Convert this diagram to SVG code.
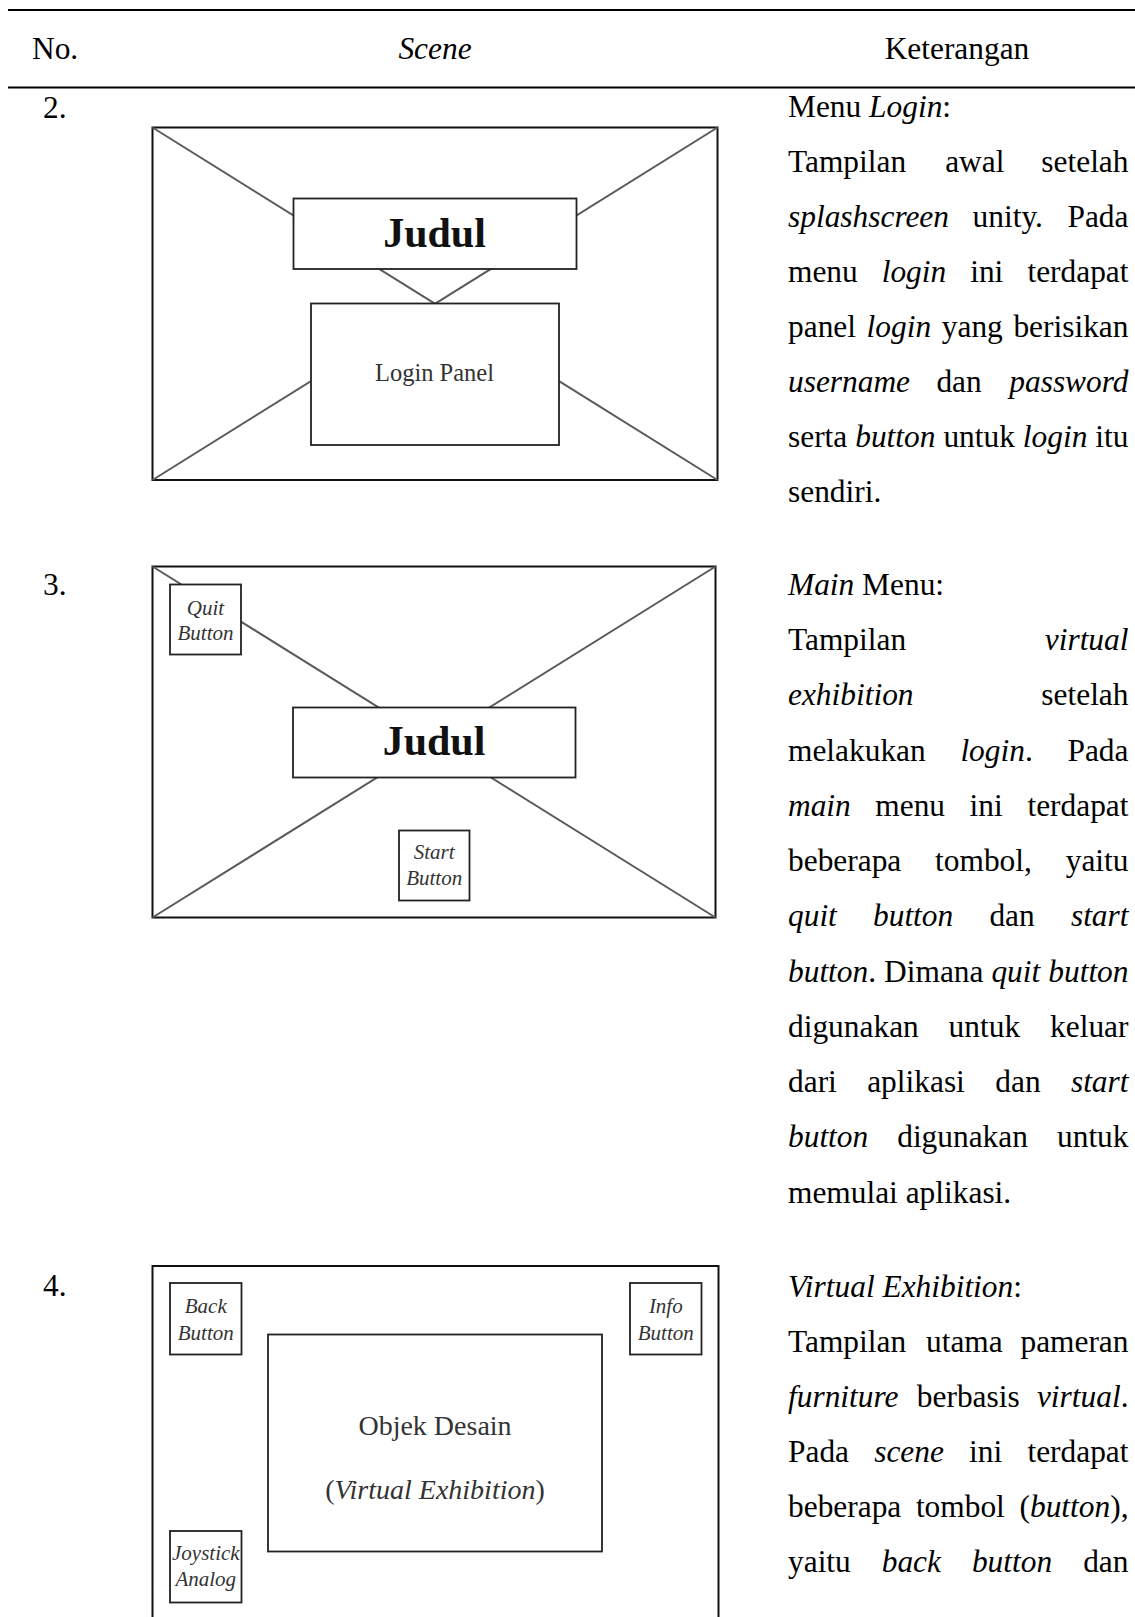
<svg xmlns="http://www.w3.org/2000/svg" width="1135" height="1617" viewBox="0 0 1135 1617">
  <style>
    .rule { stroke: #000; stroke-width: 2.2; }
    .frame { fill: #fff; stroke: #111; stroke-width: 2; }
    .box { fill: #fff; stroke: #222; stroke-width: 1.8; }
    .diag { stroke: #5a5a5a; stroke-width: 2; fill: none; }
    .t { font-family: "Liberation Serif", "Times New Roman", serif; font-size: 31.4px; fill: #000; }
    .i { font-style: italic; }
    .end { text-anchor: end; }
    .mid { text-anchor: middle; }
    .title { font-family: "Liberation Serif", "Times New Roman", serif; font-size: 42px; font-weight: bold; fill: #111; text-anchor: middle; }
    .lbl { font-family: "Liberation Serif", "Times New Roman", serif; fill: #333; text-anchor: middle; }
    .btn { font-family: "Liberation Serif", "Times New Roman", serif; font-size: 21px; font-style: italic; fill: #333; text-anchor: middle; }
  </style>
  <rect width="1135" height="1617" fill="#fff"/>

  <!-- table rules and header -->
  <g id="table-header">
    <line class="rule" x1="8" y1="10" x2="1135" y2="10"/>
    <line class="rule" x1="8" y1="87.5" x2="1135" y2="87.5"/>
    <text class="t" x="32" y="59">No.</text>
    <text class="t i mid" x="435" y="59">Scene</text>
    <text class="t mid" x="957" y="59">Keterangan</text>
  </g>

  <!-- row numbers -->
  <g id="row-numbers">
    <text class="t" x="43" y="118">2.</text>
    <text class="t" x="43" y="595">3.</text>
    <text class="t" x="43" y="1296">4.</text>
  </g>

  <!-- scene frames -->
  <g id="frame-login"><rect class="frame" x="152.5" y="127.5" width="565" height="352.5"/></g>
  <g id="frame-main"><rect class="frame" x="152.5" y="566.5" width="563" height="351"/></g>
  <g id="frame-exhibition"><rect class="frame" x="152.5" y="1266" width="566" height="360"/></g>

  <!-- cross lines behind the panels -->
  <g id="diagonals">
    <line class="diag" x1="152.5" y1="127.5" x2="717.5" y2="480"/>
    <line class="diag" x1="717.5" y1="127.5" x2="152.5" y2="480"/>
    <line class="diag" x1="152.5" y1="566.5" x2="715.5" y2="917.5"/>
    <line class="diag" x1="715.5" y1="566.5" x2="152.5" y2="917.5"/>
  </g>

  <!-- Menu Login scene -->
  <g id="login-title">
    <rect class="box" x="293.5" y="198.5" width="283" height="70.5"/>
    <text class="title" x="434.5" y="247">Judul</text>
  </g>
  <g id="login-panel">
    <rect class="box" x="311" y="303.5" width="248" height="141.5"/>
    <text class="lbl" x="434.5" y="380.5" font-size="24.5">Login Panel</text>
  </g>

  <!-- Main Menu scene -->
  <g id="quit-button">
    <rect class="box" x="170" y="584.5" width="71" height="70"/>
    <text class="btn" x="205.5" y="615">Quit</text>
    <text class="btn" x="205.5" y="640">Button</text>
  </g>
  <g id="main-title">
    <rect class="box" x="293" y="707.5" width="282.5" height="70"/>
    <text class="title" x="434" y="755">Judul</text>
  </g>
  <g id="start-button">
    <rect class="box" x="399" y="830.5" width="70.5" height="70"/>
    <text class="btn" x="434.2" y="859">Start</text>
    <text class="btn" x="434.2" y="885">Button</text>
  </g>

  <!-- Virtual Exhibition scene -->
  <g id="back-button">
    <rect class="box" x="170" y="1283" width="71.5" height="71.5"/>
    <text class="btn" x="205.8" y="1313">Back</text>
    <text class="btn" x="205.8" y="1339.5">Button</text>
  </g>
  <g id="info-button">
    <rect class="box" x="630" y="1283" width="71.5" height="71.5"/>
    <text class="btn" x="665.8" y="1313">Info</text>
    <text class="btn" x="665.8" y="1339.5">Button</text>
  </g>
  <g id="design-object">
    <rect class="box" x="268" y="1334.5" width="334" height="217"/>
    <text class="lbl" x="435" y="1435" font-size="28">Objek Desain</text>
    <text class="lbl" x="435" y="1498.5" font-size="28">(<tspan font-style="italic">Virtual Exhibition</tspan>)</text>
  </g>
  <g id="joystick">
    <rect class="box" x="170" y="1531" width="71.5" height="71.5"/>
    <text class="btn" x="205.8" y="1560">Joystick</text>
    <text class="btn" x="205.8" y="1586">Analog</text>
  </g>

  <!-- description column, justified by word placement -->
  <g id="desc-login">
    <text class="t" x="788" y="117">Menu <tspan class="i">Login</tspan>:</text>
    <text class="t" y="172"><tspan x="788">Tampilan</tspan><tspan x="945.2">awal</tspan></text>
    <text class="t end" x="1128.5" y="172">setelah</text>
    <text class="t" y="227"><tspan class="i" x="788">splashscreen</tspan><tspan x="972.6">unity.</tspan></text>
    <text class="t end" x="1128.5" y="227">Pada</text>
    <text class="t" y="282"><tspan x="788">menu</tspan><tspan class="i" x="881.7">login</tspan><tspan x="970.2">ini</tspan></text>
    <text class="t end" x="1128.5" y="282">terdapat</text>
    <text class="t" y="337"><tspan x="788">panel</tspan><tspan class="i" x="866.6">login</tspan><tspan x="941.8">yang</tspan></text>
    <text class="t end" x="1128.5" y="337">berisikan</text>
    <text class="t" y="392"><tspan class="i" x="788">username</tspan><tspan x="936.4">dan</tspan></text>
    <text class="t i end" x="1128.5" y="392">password</text>
    <text class="t" y="447"><tspan x="788">serta</tspan><tspan class="i" x="855.2">button</tspan><tspan x="943.4">untuk</tspan><tspan class="i" x="1022.8">login</tspan></text>
    <text class="t end" x="1128.5" y="447">itu</text>
    <text class="t" x="788" y="502">sendiri.</text>
  </g>

  <g id="desc-main">
    <text class="t" x="788" y="595"><tspan class="i">Main</tspan> Menu:</text>
    <text class="t" x="788" y="650">Tampilan</text>
    <text class="t i end" x="1128.5" y="650">virtual</text>
    <text class="t i" x="788" y="705">exhibition</text>
    <text class="t end" x="1128.5" y="705">setelah</text>
    <text class="t" y="761"><tspan x="788">melakukan</tspan><tspan class="i" x="960.4">login</tspan>.</text>
    <text class="t end" x="1128.5" y="761">Pada</text>
    <text class="t" y="816"><tspan class="i" x="788">main</tspan><tspan x="875.3">menu</tspan><tspan x="969.6">ini</tspan></text>
    <text class="t end" x="1128.5" y="816">terdapat</text>
    <text class="t" y="871"><tspan x="788">beberapa</tspan><tspan x="935.1">tombol,</tspan></text>
    <text class="t end" x="1128.5" y="871">yaitu</text>
    <text class="t" y="926"><tspan class="i" x="788">quit</tspan><tspan class="i" x="873">button</tspan><tspan x="989.4">dan</tspan></text>
    <text class="t i end" x="1128.5" y="926">start</text>
    <text class="t" y="982"><tspan class="i" x="788">button</tspan>.<tspan x="884.1">Dimana</tspan><tspan class="i" x="991.4">quit</tspan></text>
    <text class="t i end" x="1128.5" y="982">button</text>
    <text class="t" y="1037"><tspan x="788">digunakan</tspan><tspan x="948.6">untuk</tspan></text>
    <text class="t end" x="1128.5" y="1037">keluar</text>
    <text class="t" y="1092"><tspan x="788">dari</tspan><tspan x="867.2">aplikasi</tspan><tspan x="995.3">dan</tspan></text>
    <text class="t i end" x="1128.5" y="1092">start</text>
    <text class="t" y="1147"><tspan class="i" x="788">button</tspan><tspan x="897.2">digunakan</tspan></text>
    <text class="t end" x="1128.5" y="1147">untuk</text>
    <text class="t" x="788" y="1203">memulai aplikasi.</text>
  </g>

  <g id="desc-exhibition">
    <text class="t" x="788" y="1297"><tspan class="i">Virtual Exhibition</tspan>:</text>
    <text class="t" y="1352"><tspan x="788">Tampilan</tspan><tspan x="926">utama</tspan></text>
    <text class="t end" x="1128.5" y="1352">pameran</text>
    <text class="t" y="1407"><tspan class="i" x="788">furniture</tspan><tspan x="916.8">berbasis</tspan></text>
    <text class="t end" x="1128.5" y="1407"><tspan class="i">virtual</tspan>.</text>
    <text class="t" y="1462"><tspan x="788">Pada</tspan><tspan class="i" x="874.2">scene</tspan><tspan x="969.1">ini</tspan></text>
    <text class="t end" x="1128.5" y="1462">terdapat</text>
    <text class="t" y="1517"><tspan x="788">beberapa</tspan><tspan x="915.9">tombol</tspan></text>
    <text class="t end" x="1128.5" y="1517">(<tspan class="i">button</tspan>),</text>
    <text class="t" y="1572"><tspan x="788">yaitu</tspan><tspan class="i" x="881.7">back</tspan><tspan class="i" x="971.9">button</tspan></text>
    <text class="t end" x="1128.5" y="1572">dan</text>
  </g>
</svg>
